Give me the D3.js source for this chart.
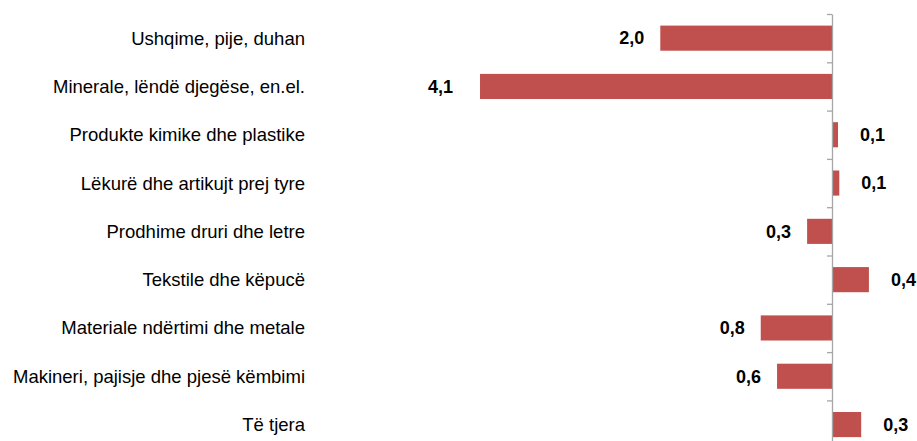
<!DOCTYPE html>
<html>
<head>
<meta charset="utf-8">
<script src="https://cdn.jsdelivr.net/npm/d3@7"></script>
<style>
    body { margin: 0; background: #fff; }
    svg { display: block; font-family: "Liberation Sans", Arial, sans-serif; }
</style>
</head>
<body>
<svg id="chart" width="917" height="441"></svg>
<script>
// categories, top to bottom
const categories = [
    'Ushqime, pije, duhan',
    'Minerale, lëndë djegëse, en.el.',
    'Produkte kimike dhe plastike',
    'Lëkurë dhe artikujt prej tyre',
    'Prodhime druri dhe letre',
    'Tekstile dhe këpucë',
    'Materiale ndërtimi dhe metale',
    'Makineri, pajisje dhe pjesë këmbimi',
    'Të tjera'
];
// contribution values (negative = to the left)
const values = [-2.0, -4.1, 0.07, 0.085, -0.29, 0.43, -0.83, -0.64, 0.34];

const svg = d3.select('#chart');
const zeroX = 832;
const plotTop = 14;
const step = 48.3;

// x scale: 85.85 px per unit
const xScale = d3.scaleLinear()
    .domain([-4.1, 0, 1])
    .range([zeroX - 4.1 * 85.85, zeroX, zeroX + 85.85]);

const yScale = d3.scaleBand()
    .domain(categories)
    .range([plotTop, plotTop + step * categories.length])
    .paddingInner(0.48)
    .paddingOuter(0.24);

// bars
svg.selectAll('rect.bar')
    .data(values)
    .enter()
    .append('rect')
    .attr('class', 'bar')
    .attr('x', d => xScale(Math.min(0, d)))
    .attr('y', (d, i) => yScale(categories[i]))
    .attr('width', d => Math.abs(xScale(d) - xScale(0)))
    .attr('height', yScale.bandwidth())
    .attr('fill', '#C0504D');

// axis at zero, ticks between categories
const tickScale = d3.scaleLinear()
    .domain([0, categories.length])
    .range([plotTop, plotTop + step * categories.length]);

svg.append('g')
    .attr('transform', `translate(${zeroX},0)`)
    .call(d3.axisLeft(tickScale)
        .tickValues(d3.range(0, categories.length + 1))
        .tickSize(5)
        .tickSizeOuter(0)
        .tickFormat(''))
    .call(g => g.selectAll('line, path').attr('stroke', '#A6A6A6').attr('stroke-width', 1.3));

// category labels
svg.selectAll('text.cat')
    .data(categories)
    .enter()
    .append('text')
    .attr('class', 'cat')
    .attr('x', 305)
    .attr('y', d => yScale(d) + yScale.bandwidth() / 2)
    .attr('dy', '0.35em')
    .attr('text-anchor', 'end')
    .attr('font-size', '18.5px')
    .attr('fill', '#000')
    .text(d => d);

// value labels (absolute value, comma decimal)
const labelNudge = { 1: -11 }; // Minerale label sits a bit further out
svg.selectAll('text.val')
    .data(values)
    .enter()
    .append('text')
    .attr('class', 'val')
    .attr('x', (d, i) => d < 0
        ? xScale(d) - 16 + (labelNudge[i] || 0)
        : xScale(d) + 22)
    .attr('y', (d, i) => yScale(categories[i]) + yScale.bandwidth() / 2)
    .attr('dy', '0.35em')
    .attr('text-anchor', d => d < 0 ? 'end' : 'start')
    .attr('font-size', '18px')
    .attr('font-weight', 'bold')
    .attr('fill', '#000')
    .text(d => Math.abs(d).toFixed(1).replace('.', ','));
</script>
</body>
</html>
